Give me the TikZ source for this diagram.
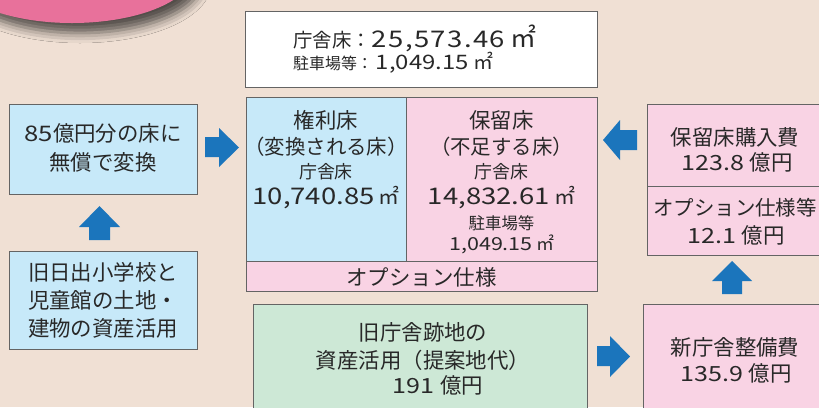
\documentclass[tikz,border=0pt]{standalone}
\usepackage{fontspec}
\setmainfont{Noto Sans CJK JP}
\newfontfamily\numf[FakeStretch=1.2]{Noto Sans CJK JP}
\newfontfamily\numw[FakeStretch=1.2,LetterSpace=6]{Noto Sans CJK JP}
\usetikzlibrary{shadows.blur}
\definecolor{bg}{RGB}{240,224,212}
\definecolor{blob}{RGB}{232,113,155}
\definecolor{lblue}{RGB}{199,233,249}
\definecolor{lpink}{RGB}{249,211,228}
\definecolor{lgreen}{RGB}{205,232,214}
\definecolor{abl}{RGB}{27,117,188}
\definecolor{txt}{RGB}{40,40,40}
\definecolor{edge}{RGB}{100,100,100}
\newcommand\fz[1]{\fontsize{#1}{#1}\selectfont}
\newcommand\nm[2]{{\numf\fontsize{#1}{#1}\selectfont #2}}
\newcommand\nmw[2]{{\numw\fontsize{#1}{#1}\selectfont #2}}
\newcommand\sqm[1]{{\fontsize{#1}{#1}\selectfont ㎡}}
\tikzset{
  box/.style={draw=edge, line width=0.8bp, inner sep=0pt, anchor=north west},
  lbl/.style={inner sep=0pt, text=txt, font=\fz{21.5}},
  barrow/.style={fill=abl}
}
\begin{document}
\begin{tikzpicture}[x=1bp,y=-1bp]
\useasboundingbox (0,0) rectangle (819,407);
\fill[bg] (0,0) rectangle (819,407);
% pink blob with shadow
\fill[blob, blur shadow={shadow xshift=8bp, shadow yshift=-10bp, shadow blur radius=10bp, shadow opacity=65}] (72,-29) ellipse [x radius=122, y radius=52];

% top white box
\node[box, fill=white, minimum width=352bp, minimum height=76bp] (tot) at (245,11) {};
\node[lbl, anchor=west] (tot1) at (293,38) {\fz{19.5}庁舎床：\kern1bp\nmw{23}{25,573.46}\kern5bp\sqm{26}};
\node[lbl, anchor=west] (tot2) at (293,63) {\fz{16}駐車場等：\kern3bp\nm{20}{1,049.15}\kern5bp\sqm{20}};

% left boxes
\node[box, fill=lblue, minimum width=188bp, minimum height=90bp] (A) at (9,104) {};
\node[lbl] (a1) at (103,133) {\nm{21.5}{85}億円分の床に};
\node[lbl] (a2) at (103,162) {無償で変換};

\node[box, fill=lblue, minimum width=188bp, minimum height=98bp] (B) at (9,251) {};
\node[lbl] (b1) at (103,272) {旧日出小学校と};
\node[lbl] (b2) at (103,300) {児童館の土地・};
\node[lbl] (b3) at (103,328) {建物の資産活用};

% composite
\node[box, fill=lblue, minimum width=160bp, minimum height=164bp] (K) at (246,97) {};
\node[box, fill=lpink, minimum width=191bp, minimum height=164bp] (H) at (406,97) {};
\node[box, fill=lpink, minimum width=351bp, minimum height=30bp] (S) at (246,261) {};
\node[lbl] (k1) at (326,120) {権利床};
\node[lbl, font=\fz{20.5}] (k2) at (326,147) {（変換される床）};
\node[lbl, font=\fz{18}] (k3) at (326,172) {庁舎床};
\node[lbl] (k4) at (326,198) {\nm{23}{10,740.85}\kern4bp\sqm{21}};
\node[lbl] (h1) at (501.5,120) {保留床};
\node[lbl, font=\fz{20.5}] (h2) at (501.5,147) {（不足する床）};
\node[lbl, font=\fz{18}] (h3) at (501.5,172) {庁舎床};
\node[lbl] (h4) at (501.5,198) {\nm{23}{14,832.61}\kern4bp\sqm{21}};
\node[lbl, font=\fz{16.5}] (h5) at (501.5,223) {駐車場等};
\node[lbl] (h6) at (502,244) {\nm{18}{1,049.15}\kern4bp\sqm{18}};
\node[lbl] (s1) at (421.5,277) {オプション仕様};

% green
\node[box, fill=lgreen, minimum width=334bp, minimum height=110bp] (G) at (253,304) {};
\node[lbl] (g1) at (423,332) {旧庁舎跡地の};
\node[lbl] (g2) at (423,360) {資産活用（提案地代）};
\node[lbl] (g3) at (438,385) {\nm{21}{191}\kern6bp 億円};

% right boxes
\node[box, fill=lpink, minimum width=190bp, minimum height=82bp] (C1) at (647,104) {};
\node[box, fill=lpink, minimum width=190bp, minimum height=69bp] (C2) at (647,186) {};
\node[lbl] (c1) at (735,137) {保留床購入費};
\node[lbl] (c2) at (737,162) {\nm{21}{123.8}\kern6bp 億円};
\node[lbl, font=\fz{20.5}] (c3) at (735,208) {オプション仕様等};
\node[lbl] (c4) at (736,235) {\nm{21}{12.1}\kern6bp 億円};
\node[box, fill=lpink, minimum width=190bp, minimum height=110bp] (D) at (643,304) {};
\node[lbl] (d1) at (735,347) {新庁舎整備費};
\node[lbl] (d2) at (736,373) {\nm{21}{135.9}\kern6bp 億円};

% block arrows
\fill[barrow] (205,137) -- (219,137) -- (219,128) -- (239,147.5) -- (219,167) -- (219,157) -- (205,157) -- cycle;
\fill[barrow] (89,240) -- (89,227) -- (79,227) -- (99.5,206) -- (120,227) -- (110,227) -- (110,240) -- cycle;
\fill[barrow] (637,130) -- (620,130) -- (620,120) -- (603,140) -- (620,160) -- (620,150) -- (637,150) -- cycle;
\fill[barrow] (722,294) -- (722,281) -- (712,281) -- (732,261) -- (752,281) -- (742,281) -- (742,294) -- cycle;
\fill[barrow] (597,346) -- (610,346) -- (610,336) -- (630,356.5) -- (610,377) -- (610,366) -- (597,366) -- cycle;
\end{tikzpicture}
\end{document}
